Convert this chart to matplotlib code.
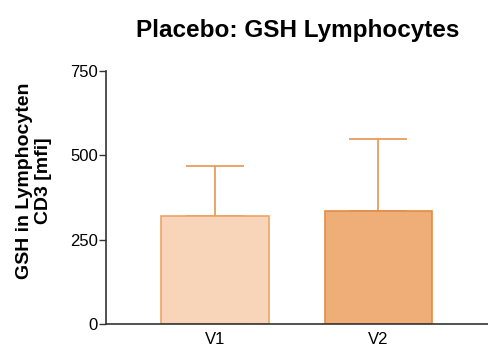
import matplotlib.pyplot as plt

plt.rcParams['font.family'] = ['Liberation Sans', 'DejaVu Sans']

visits = ['V1', 'V2']
means = [320, 336]
sd_upper = [148, 212]
fills = ['#F8D4B8', '#EFAE78']
edges = ['#EBA468', '#E58C43']

fig = plt.figure(figsize=(4.88, 3.49), dpi=100)
ax = fig.add_axes([106 / 488, 25 / 349, 382 / 488, 253 / 349])

x = range(len(visits))
ax.bar(x, means, width=0.66, color=fills, edgecolor=edges, linewidth=1.2, zorder=2)
ax.errorbar(x, means, yerr=[[0, 0], sd_upper], fmt='none', ecolor='#E8954E',
            elinewidth=1.2, capsize=21, capthick=1.2, zorder=1)

ax.set_xlim(-0.667, 1.67)
ax.set_ylim(0, 750)
ax.set_yticks([0, 250, 500, 750])
ax.set_xticks(list(x))
ax.set_xticklabels(visits, fontsize=12)
ax.tick_params(axis='x', length=0, pad=6)
ax.tick_params(axis='y', length=5, width=1, color='#333333', labelsize=12, pad=1)

for side in ['top', 'right']:
    ax.spines[side].set_visible(False)
for side in ['left', 'bottom']:
    ax.spines[side].set_color('#333333')
    ax.spines[side].set_linewidth(1.2)

ax.set_ylabel('GSH in Lymphocyten\nCD3 [mfi]', fontsize=14, fontweight='bold',
              linespacing=1.1, labelpad=13)
ax.yaxis.label.set_y(0.565)
fig.text(0.61, 1 - 37 / 349, 'Placebo: GSH Lymphocytes', ha='center', va='baseline',
         fontsize=17.5, fontweight='bold')

fig.savefig('out.png', dpi=100)
